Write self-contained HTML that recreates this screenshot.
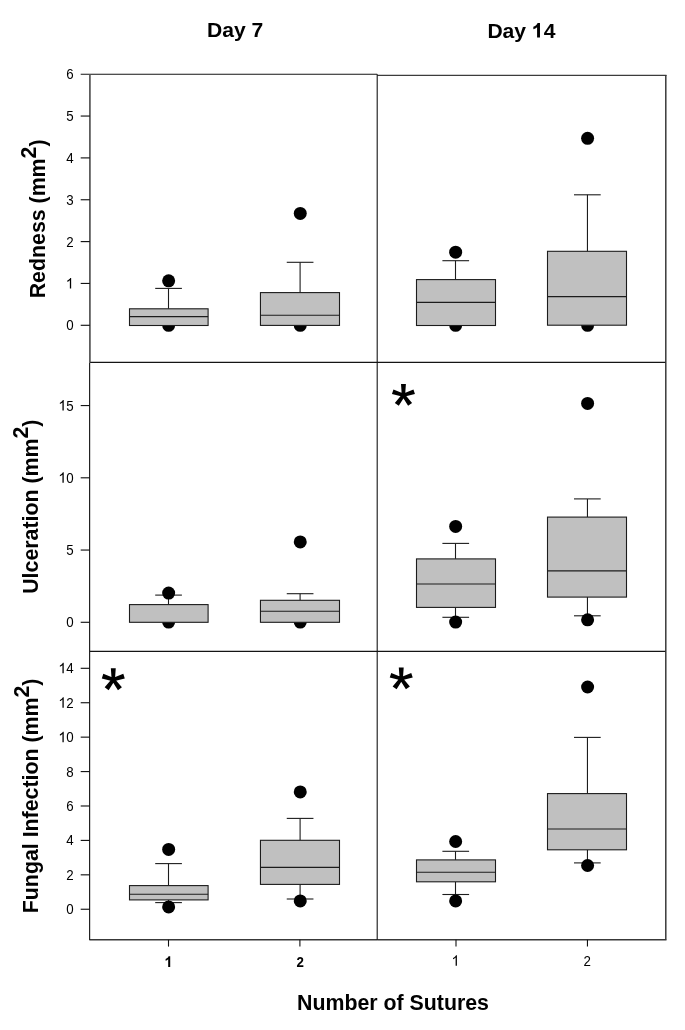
<!DOCTYPE html>
<html>
<head>
<meta charset="utf-8">
<title>Box plots</title>
<style>
html,body{margin:0;padding:0;background:#fff;}
body{width:685px;height:1030px;overflow:hidden;font-family:"Liberation Sans", sans-serif;}
svg{display:block;will-change:transform;opacity:0.999;}
</style>
</head>
<body>
<svg width="685" height="1030" viewBox="0 0 685 1030">
<rect x="0" y="0" width="685" height="1030" fill="#ffffff"/>
<g>
<line x1="168.50" y1="308.80" x2="168.50" y2="288.40" stroke="#1c1c1c" stroke-width="1.1" stroke-linecap="butt"/>
<line x1="155.20" y1="288.40" x2="181.90" y2="288.40" stroke="#1c1c1c" stroke-width="1.1" stroke-linecap="butt"/>
<line x1="300.10" y1="292.60" x2="300.10" y2="262.30" stroke="#1c1c1c" stroke-width="1.1" stroke-linecap="butt"/>
<line x1="286.75" y1="262.30" x2="313.45" y2="262.30" stroke="#1c1c1c" stroke-width="1.1" stroke-linecap="butt"/>
<line x1="455.50" y1="279.60" x2="455.50" y2="260.70" stroke="#1c1c1c" stroke-width="1.1" stroke-linecap="butt"/>
<line x1="442.40" y1="260.70" x2="469.10" y2="260.70" stroke="#1c1c1c" stroke-width="1.1" stroke-linecap="butt"/>
<line x1="587.45" y1="251.30" x2="587.45" y2="194.80" stroke="#1c1c1c" stroke-width="1.1" stroke-linecap="butt"/>
<line x1="574.00" y1="194.80" x2="600.70" y2="194.80" stroke="#1c1c1c" stroke-width="1.1" stroke-linecap="butt"/>
<line x1="168.50" y1="604.60" x2="168.50" y2="595.10" stroke="#1c1c1c" stroke-width="1.1" stroke-linecap="butt"/>
<line x1="155.20" y1="595.10" x2="181.90" y2="595.10" stroke="#1c1c1c" stroke-width="1.1" stroke-linecap="butt"/>
<line x1="300.10" y1="600.30" x2="300.10" y2="593.70" stroke="#1c1c1c" stroke-width="1.1" stroke-linecap="butt"/>
<line x1="286.75" y1="593.70" x2="313.45" y2="593.70" stroke="#1c1c1c" stroke-width="1.1" stroke-linecap="butt"/>
<line x1="455.50" y1="558.90" x2="455.50" y2="543.40" stroke="#1c1c1c" stroke-width="1.1" stroke-linecap="butt"/>
<line x1="442.40" y1="543.40" x2="469.10" y2="543.40" stroke="#1c1c1c" stroke-width="1.1" stroke-linecap="butt"/>
<line x1="455.50" y1="607.40" x2="455.50" y2="617.30" stroke="#1c1c1c" stroke-width="1.1" stroke-linecap="butt"/>
<line x1="442.40" y1="617.30" x2="469.10" y2="617.30" stroke="#1c1c1c" stroke-width="1.1" stroke-linecap="butt"/>
<line x1="587.45" y1="517.10" x2="587.45" y2="498.90" stroke="#1c1c1c" stroke-width="1.1" stroke-linecap="butt"/>
<line x1="574.00" y1="498.90" x2="600.70" y2="498.90" stroke="#1c1c1c" stroke-width="1.1" stroke-linecap="butt"/>
<line x1="587.45" y1="597.10" x2="587.45" y2="615.80" stroke="#1c1c1c" stroke-width="1.1" stroke-linecap="butt"/>
<line x1="574.00" y1="615.80" x2="600.70" y2="615.80" stroke="#1c1c1c" stroke-width="1.1" stroke-linecap="butt"/>
<line x1="168.50" y1="885.60" x2="168.50" y2="863.60" stroke="#1c1c1c" stroke-width="1.1" stroke-linecap="butt"/>
<line x1="155.20" y1="863.60" x2="181.90" y2="863.60" stroke="#1c1c1c" stroke-width="1.1" stroke-linecap="butt"/>
<line x1="168.50" y1="899.90" x2="168.50" y2="902.60" stroke="#1c1c1c" stroke-width="1.1" stroke-linecap="butt"/>
<line x1="155.20" y1="902.60" x2="181.90" y2="902.60" stroke="#1c1c1c" stroke-width="1.1" stroke-linecap="butt"/>
<line x1="300.10" y1="840.30" x2="300.10" y2="818.40" stroke="#1c1c1c" stroke-width="1.1" stroke-linecap="butt"/>
<line x1="286.75" y1="818.40" x2="313.45" y2="818.40" stroke="#1c1c1c" stroke-width="1.1" stroke-linecap="butt"/>
<line x1="300.10" y1="884.40" x2="300.10" y2="899.00" stroke="#1c1c1c" stroke-width="1.1" stroke-linecap="butt"/>
<line x1="286.75" y1="899.00" x2="313.45" y2="899.00" stroke="#1c1c1c" stroke-width="1.1" stroke-linecap="butt"/>
<line x1="455.50" y1="859.90" x2="455.50" y2="851.30" stroke="#1c1c1c" stroke-width="1.1" stroke-linecap="butt"/>
<line x1="442.40" y1="851.30" x2="469.10" y2="851.30" stroke="#1c1c1c" stroke-width="1.1" stroke-linecap="butt"/>
<line x1="455.50" y1="881.80" x2="455.50" y2="894.50" stroke="#1c1c1c" stroke-width="1.1" stroke-linecap="butt"/>
<line x1="442.40" y1="894.50" x2="469.10" y2="894.50" stroke="#1c1c1c" stroke-width="1.1" stroke-linecap="butt"/>
<line x1="587.45" y1="793.60" x2="587.45" y2="737.40" stroke="#1c1c1c" stroke-width="1.1" stroke-linecap="butt"/>
<line x1="574.00" y1="737.40" x2="600.70" y2="737.40" stroke="#1c1c1c" stroke-width="1.1" stroke-linecap="butt"/>
<line x1="587.45" y1="849.80" x2="587.45" y2="862.90" stroke="#1c1c1c" stroke-width="1.1" stroke-linecap="butt"/>
<line x1="574.00" y1="862.90" x2="600.70" y2="862.90" stroke="#1c1c1c" stroke-width="1.1" stroke-linecap="butt"/>
</g>
<g>
<circle cx="168.65" cy="280.80" r="6.5" fill="#000"/>
<circle cx="168.65" cy="325.30" r="6.5" fill="#000"/>
<circle cx="300.25" cy="213.40" r="6.5" fill="#000"/>
<circle cx="300.25" cy="325.30" r="6.5" fill="#000"/>
<circle cx="455.65" cy="252.20" r="6.5" fill="#000"/>
<circle cx="455.65" cy="325.30" r="6.5" fill="#000"/>
<circle cx="587.60" cy="138.30" r="6.5" fill="#000"/>
<circle cx="587.60" cy="325.30" r="6.5" fill="#000"/>
<circle cx="168.65" cy="593.10" r="6.5" fill="#000"/>
<circle cx="168.65" cy="622.10" r="6.5" fill="#000"/>
<circle cx="300.25" cy="541.90" r="6.5" fill="#000"/>
<circle cx="300.25" cy="622.10" r="6.5" fill="#000"/>
<circle cx="455.65" cy="526.40" r="6.5" fill="#000"/>
<circle cx="455.65" cy="622.10" r="6.5" fill="#000"/>
<circle cx="587.60" cy="403.40" r="6.5" fill="#000"/>
<circle cx="587.60" cy="619.80" r="6.5" fill="#000"/>
<circle cx="168.65" cy="849.40" r="6.5" fill="#000"/>
<circle cx="168.65" cy="906.90" r="6.5" fill="#000"/>
<circle cx="300.25" cy="791.90" r="6.5" fill="#000"/>
<circle cx="300.25" cy="900.90" r="6.5" fill="#000"/>
<circle cx="455.65" cy="841.50" r="6.5" fill="#000"/>
<circle cx="455.65" cy="900.90" r="6.5" fill="#000"/>
<circle cx="587.60" cy="687.00" r="6.5" fill="#000"/>
<circle cx="587.60" cy="865.50" r="6.5" fill="#000"/>
</g>
<g>
<rect x="129.50" y="308.80" width="78.60" height="16.70" fill="#c0c0c0" stroke="#1c1c1c" stroke-width="1.1"/>
<line x1="129.50" y1="316.60" x2="208.10" y2="316.60" stroke="#1c1c1c" stroke-width="1.1" stroke-linecap="butt"/>
<rect x="260.45" y="292.60" width="79.05" height="32.80" fill="#c0c0c0" stroke="#1c1c1c" stroke-width="1.1"/>
<line x1="260.45" y1="315.30" x2="339.50" y2="315.30" stroke="#1c1c1c" stroke-width="1.1" stroke-linecap="butt"/>
<rect x="416.50" y="279.60" width="79.00" height="45.90" fill="#c0c0c0" stroke="#1c1c1c" stroke-width="1.1"/>
<line x1="416.50" y1="302.40" x2="495.50" y2="302.40" stroke="#1c1c1c" stroke-width="1.1" stroke-linecap="butt"/>
<rect x="547.50" y="251.30" width="79.00" height="73.90" fill="#c0c0c0" stroke="#1c1c1c" stroke-width="1.1"/>
<line x1="547.50" y1="296.60" x2="626.50" y2="296.60" stroke="#1c1c1c" stroke-width="1.1" stroke-linecap="butt"/>
<rect x="129.50" y="604.60" width="78.60" height="17.70" fill="#c0c0c0" stroke="#1c1c1c" stroke-width="1.1"/>
<rect x="260.45" y="600.30" width="79.05" height="22.00" fill="#c0c0c0" stroke="#1c1c1c" stroke-width="1.1"/>
<line x1="260.45" y1="611.20" x2="339.50" y2="611.20" stroke="#1c1c1c" stroke-width="1.1" stroke-linecap="butt"/>
<rect x="416.50" y="558.90" width="79.00" height="48.50" fill="#c0c0c0" stroke="#1c1c1c" stroke-width="1.1"/>
<line x1="416.50" y1="584.00" x2="495.50" y2="584.00" stroke="#1c1c1c" stroke-width="1.1" stroke-linecap="butt"/>
<rect x="547.50" y="517.10" width="79.00" height="80.00" fill="#c0c0c0" stroke="#1c1c1c" stroke-width="1.1"/>
<line x1="547.50" y1="570.90" x2="626.50" y2="570.90" stroke="#1c1c1c" stroke-width="1.1" stroke-linecap="butt"/>
<rect x="129.50" y="885.60" width="78.60" height="14.30" fill="#c0c0c0" stroke="#1c1c1c" stroke-width="1.1"/>
<line x1="129.50" y1="894.20" x2="208.10" y2="894.20" stroke="#1c1c1c" stroke-width="1.1" stroke-linecap="butt"/>
<rect x="260.45" y="840.30" width="79.05" height="44.10" fill="#c0c0c0" stroke="#1c1c1c" stroke-width="1.1"/>
<line x1="260.45" y1="867.40" x2="339.50" y2="867.40" stroke="#1c1c1c" stroke-width="1.1" stroke-linecap="butt"/>
<rect x="416.50" y="859.90" width="79.00" height="21.90" fill="#c0c0c0" stroke="#1c1c1c" stroke-width="1.1"/>
<line x1="416.50" y1="872.30" x2="495.50" y2="872.30" stroke="#1c1c1c" stroke-width="1.1" stroke-linecap="butt"/>
<rect x="547.50" y="793.60" width="79.00" height="56.20" fill="#c0c0c0" stroke="#1c1c1c" stroke-width="1.1"/>
<line x1="547.50" y1="829.00" x2="626.50" y2="829.00" stroke="#1c1c1c" stroke-width="1.1" stroke-linecap="butt"/>
</g>
<g>
<line x1="80.70" y1="74.30" x2="377.20" y2="74.30" stroke="#141414" stroke-width="1.1" stroke-linecap="butt"/>
<line x1="377.20" y1="75.30" x2="666.50" y2="75.30" stroke="#0c0c0c" stroke-width="1.0" stroke-linecap="butt"/>
<line x1="89.90" y1="362.40" x2="666.00" y2="362.40" stroke="#141414" stroke-width="1.1" stroke-linecap="butt"/>
<line x1="89.90" y1="651.35" x2="666.00" y2="651.35" stroke="#141414" stroke-width="1.1" stroke-linecap="butt"/>
<line x1="89.35" y1="939.85" x2="377.20" y2="939.85" stroke="#383838" stroke-width="1.5" stroke-linecap="butt"/>
<line x1="377.20" y1="939.75" x2="666.50" y2="939.75" stroke="#383838" stroke-width="1.5" stroke-linecap="butt"/>
<line x1="89.90" y1="74.30" x2="89.90" y2="362.40" stroke="#555" stroke-width="1.7" stroke-linecap="butt"/>
<line x1="89.60" y1="362.40" x2="89.60" y2="939.90" stroke="#222" stroke-width="1.2" stroke-linecap="butt"/>
<line x1="377.20" y1="74.30" x2="377.20" y2="939.90" stroke="#141414" stroke-width="1.1" stroke-linecap="butt"/>
<line x1="665.80" y1="75.10" x2="665.80" y2="939.60" stroke="#333" stroke-width="1.45" stroke-linecap="butt"/>
</g>
<g>
<line x1="80.70" y1="325.30" x2="89.90" y2="325.30" stroke="#141414" stroke-width="1.15" stroke-linecap="butt"/>
<text transform="translate(66.24,330.35) scale(1,1.15)" font-size="13.33" font-weight="normal" font-family='"Liberation Sans", sans-serif' fill="#000">0</text>
<line x1="80.70" y1="283.45" x2="89.90" y2="283.45" stroke="#141414" stroke-width="1.15" stroke-linecap="butt"/>
<path transform="translate(65.69,288.50) scale(0.007160,-0.007160)" d="M763 0H583V1147Q518 1085 412.5 1023T223 930V1104Q373 1174.5 485 1275T644 1470H763Z" fill="#000"/>
<line x1="80.70" y1="241.60" x2="89.90" y2="241.60" stroke="#141414" stroke-width="1.15" stroke-linecap="butt"/>
<text transform="translate(66.24,246.65) scale(1,1.15)" font-size="13.33" font-weight="normal" font-family='"Liberation Sans", sans-serif' fill="#000">2</text>
<line x1="80.70" y1="199.75" x2="89.90" y2="199.75" stroke="#141414" stroke-width="1.15" stroke-linecap="butt"/>
<text transform="translate(66.24,204.80) scale(1,1.15)" font-size="13.33" font-weight="normal" font-family='"Liberation Sans", sans-serif' fill="#000">3</text>
<line x1="80.70" y1="157.90" x2="89.90" y2="157.90" stroke="#141414" stroke-width="1.15" stroke-linecap="butt"/>
<text transform="translate(66.24,162.95) scale(1,1.15)" font-size="13.33" font-weight="normal" font-family='"Liberation Sans", sans-serif' fill="#000">4</text>
<line x1="80.70" y1="116.05" x2="89.90" y2="116.05" stroke="#141414" stroke-width="1.15" stroke-linecap="butt"/>
<text transform="translate(66.24,121.10) scale(1,1.15)" font-size="13.33" font-weight="normal" font-family='"Liberation Sans", sans-serif' fill="#000">5</text>
<text transform="translate(66.24,79.25) scale(1,1.15)" font-size="13.33" font-weight="normal" font-family='"Liberation Sans", sans-serif' fill="#000">6</text>
<line x1="80.70" y1="622.30" x2="89.90" y2="622.30" stroke="#141414" stroke-width="1.15" stroke-linecap="butt"/>
<text transform="translate(66.24,627.35) scale(1,1.15)" font-size="13.33" font-weight="normal" font-family='"Liberation Sans", sans-serif' fill="#000">0</text>
<line x1="80.70" y1="550.05" x2="89.90" y2="550.05" stroke="#141414" stroke-width="1.15" stroke-linecap="butt"/>
<text transform="translate(66.24,555.10) scale(1,1.15)" font-size="13.33" font-weight="normal" font-family='"Liberation Sans", sans-serif' fill="#000">5</text>
<line x1="80.70" y1="477.80" x2="89.90" y2="477.80" stroke="#141414" stroke-width="1.15" stroke-linecap="butt"/>
<path transform="translate(58.27,482.85) scale(0.007160,-0.007160)" d="M763 0H583V1147Q518 1085 412.5 1023T223 930V1104Q373 1174.5 485 1275T644 1470H763Z" fill="#000"/>
<text transform="translate(66.24,482.85) scale(1,1.15)" font-size="13.33" font-weight="normal" font-family='"Liberation Sans", sans-serif' fill="#000">0</text>
<line x1="80.70" y1="405.55" x2="89.90" y2="405.55" stroke="#141414" stroke-width="1.15" stroke-linecap="butt"/>
<path transform="translate(58.27,410.60) scale(0.007160,-0.007160)" d="M763 0H583V1147Q518 1085 412.5 1023T223 930V1104Q373 1174.5 485 1275T644 1470H763Z" fill="#000"/>
<text transform="translate(66.24,410.60) scale(1,1.15)" font-size="13.33" font-weight="normal" font-family='"Liberation Sans", sans-serif' fill="#000">5</text>
<line x1="80.70" y1="909.25" x2="89.90" y2="909.25" stroke="#141414" stroke-width="1.15" stroke-linecap="butt"/>
<text transform="translate(66.24,914.30) scale(1,1.15)" font-size="13.33" font-weight="normal" font-family='"Liberation Sans", sans-serif' fill="#000">0</text>
<line x1="80.70" y1="874.83" x2="89.90" y2="874.83" stroke="#141414" stroke-width="1.15" stroke-linecap="butt"/>
<text transform="translate(66.24,879.88) scale(1,1.15)" font-size="13.33" font-weight="normal" font-family='"Liberation Sans", sans-serif' fill="#000">2</text>
<line x1="80.70" y1="840.41" x2="89.90" y2="840.41" stroke="#141414" stroke-width="1.15" stroke-linecap="butt"/>
<text transform="translate(66.24,845.46) scale(1,1.15)" font-size="13.33" font-weight="normal" font-family='"Liberation Sans", sans-serif' fill="#000">4</text>
<line x1="80.70" y1="805.99" x2="89.90" y2="805.99" stroke="#141414" stroke-width="1.15" stroke-linecap="butt"/>
<text transform="translate(66.24,811.04) scale(1,1.15)" font-size="13.33" font-weight="normal" font-family='"Liberation Sans", sans-serif' fill="#000">6</text>
<line x1="80.70" y1="771.57" x2="89.90" y2="771.57" stroke="#141414" stroke-width="1.15" stroke-linecap="butt"/>
<text transform="translate(66.24,776.62) scale(1,1.15)" font-size="13.33" font-weight="normal" font-family='"Liberation Sans", sans-serif' fill="#000">8</text>
<line x1="80.70" y1="737.15" x2="89.90" y2="737.15" stroke="#141414" stroke-width="1.15" stroke-linecap="butt"/>
<path transform="translate(58.27,742.20) scale(0.007160,-0.007160)" d="M763 0H583V1147Q518 1085 412.5 1023T223 930V1104Q373 1174.5 485 1275T644 1470H763Z" fill="#000"/>
<text transform="translate(66.24,742.20) scale(1,1.15)" font-size="13.33" font-weight="normal" font-family='"Liberation Sans", sans-serif' fill="#000">0</text>
<line x1="80.70" y1="702.73" x2="89.90" y2="702.73" stroke="#141414" stroke-width="1.15" stroke-linecap="butt"/>
<path transform="translate(58.27,707.78) scale(0.007160,-0.007160)" d="M763 0H583V1147Q518 1085 412.5 1023T223 930V1104Q373 1174.5 485 1275T644 1470H763Z" fill="#000"/>
<text transform="translate(66.24,707.78) scale(1,1.15)" font-size="13.33" font-weight="normal" font-family='"Liberation Sans", sans-serif' fill="#000">2</text>
<line x1="80.70" y1="668.31" x2="89.90" y2="668.31" stroke="#141414" stroke-width="1.15" stroke-linecap="butt"/>
<path transform="translate(58.27,673.36) scale(0.007160,-0.007160)" d="M763 0H583V1147Q518 1085 412.5 1023T223 930V1104Q373 1174.5 485 1275T644 1470H763Z" fill="#000"/>
<text transform="translate(66.24,673.36) scale(1,1.15)" font-size="13.33" font-weight="normal" font-family='"Liberation Sans", sans-serif' fill="#000">4</text>
</g>
<g>
<line x1="168.50" y1="939.80" x2="168.50" y2="946.60" stroke="#111" stroke-width="1.1" stroke-linecap="butt"/>
<path transform="translate(164.44,966.90) scale(0.007160,-0.007160)" d="M806 0H525V1059Q371 915 162 846V1101Q272 1137 401 1237.5T578 1472H806Z" fill="#000"/>
<line x1="299.90" y1="939.80" x2="299.90" y2="946.60" stroke="#111" stroke-width="1.1" stroke-linecap="butt"/>
<text transform="translate(296.39,966.90) scale(1,1.15)" font-size="13.33" font-weight="bold" font-family='"Liberation Sans", sans-serif' fill="#000">2</text>
<line x1="456.00" y1="939.80" x2="456.00" y2="946.60" stroke="#111" stroke-width="1.1" stroke-linecap="butt"/>
<path transform="translate(451.44,965.80) scale(0.007160,-0.007160)" d="M763 0H583V1147Q518 1085 412.5 1023T223 930V1104Q373 1174.5 485 1275T644 1470H763Z" fill="#000"/>
<line x1="587.45" y1="939.80" x2="587.45" y2="946.60" stroke="#111" stroke-width="1.1" stroke-linecap="butt"/>
<text transform="translate(583.44,965.80) scale(1,1.15)" font-size="13.33" font-weight="normal" font-family='"Liberation Sans", sans-serif' fill="#000">2</text>
</g>
<text x="207.0" y="37.2" font-size="21.1" font-weight="bold" font-family='"Liberation Sans", sans-serif' fill="#000">Day 7</text>
<text x="487.4" y="37.6" font-size="21.1" font-weight="bold" font-family='"Liberation Sans", sans-serif' fill="#000">Day </text>
<path transform="translate(531.67,37.6) scale(0.010303,-0.009839)" d="M806 0H525V1059Q371 915 162 846V1101Q272 1137 401 1237.5T578 1472H806Z" fill="#000"/>
<text x="543.70" y="37.6" font-size="21.1" font-weight="bold" font-family='"Liberation Sans", sans-serif' fill="#000">4</text>
<text x="393.0" y="1010.4" text-anchor="middle" font-size="21.33" font-weight="bold" font-family='"Liberation Sans", sans-serif' fill="#000" >Number of Sutures</text>
<text transform="translate(45.35,298.3) rotate(-90)" font-size="21.33" font-weight="bold" font-family='"Liberation Sans", sans-serif' fill="#000">Redness (mm<tspan dy="-9.2">2</tspan><tspan dy="9.2">)</tspan></text>
<text transform="translate(37.6,593.8) rotate(-90)" font-size="21.33" font-weight="bold" font-family='"Liberation Sans", sans-serif' fill="#000">Ulceration (mm<tspan dy="-9.2">2</tspan><tspan dy="9.2">)</tspan></text>
<text transform="translate(37.7,913.2) rotate(-90)" font-size="21.33" font-weight="bold" font-family='"Liberation Sans", sans-serif' fill="#000">Fungal Infection (mm<tspan dy="-9.2">2</tspan><tspan dy="9.2">)</tspan></text>
<path d="M401.80,395.21 L401.00,383.91 L405.90,383.91 L405.10,395.21Z M402.94,396.78 L391.95,394.05 L393.46,389.39 L403.96,393.64Z M404.78,396.18 L398.79,405.79 L394.83,402.91 L402.12,394.24Z M404.78,394.24 L412.07,402.91 L408.11,405.79 L402.12,396.18Z M402.94,393.64 L413.44,389.39 L414.95,394.05 L403.96,396.78Z " fill="#000"/>
<circle cx="403.45" cy="395.21" r="2.6" fill="#000"/>
<path d="M111.65,679.66 L110.85,668.36 L115.75,668.36 L114.95,679.66Z M112.79,681.23 L101.80,678.50 L103.31,673.84 L113.81,678.09Z M114.63,680.63 L108.64,690.24 L104.68,687.36 L111.97,678.69Z M114.63,678.69 L121.92,687.36 L117.96,690.24 L111.97,680.63Z M112.79,678.09 L123.29,673.84 L124.80,678.50 L113.81,681.23Z " fill="#000"/>
<circle cx="113.30" cy="679.66" r="2.6" fill="#000"/>
<path d="M399.60,678.71 L398.80,667.41 L403.70,667.41 L402.90,678.71Z M400.74,680.28 L389.75,677.55 L391.26,672.89 L401.76,677.14Z M402.58,679.68 L396.59,689.29 L392.63,686.41 L399.92,677.74Z M402.58,677.74 L409.87,686.41 L405.91,689.29 L399.92,679.68Z M400.74,677.14 L411.24,672.89 L412.75,677.55 L401.76,680.28Z " fill="#000"/>
<circle cx="401.25" cy="678.71" r="2.6" fill="#000"/>
</svg>
</body>
</html>
